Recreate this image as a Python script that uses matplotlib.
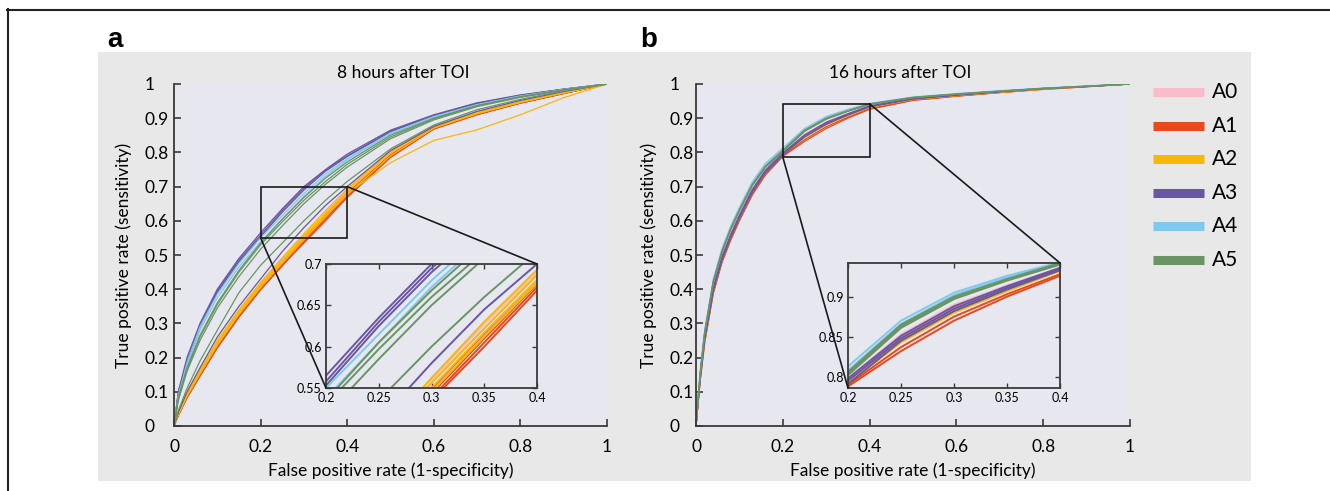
import matplotlib
matplotlib.use("Agg")
import matplotlib.pyplot as plt
from matplotlib.patches import Rectangle, ConnectionPatch
from matplotlib.lines import Line2D

plt.rcParams['font.family'] = ['Lato', 'DejaVu Sans']

# ---------------- data ----------------
series_names = ["A0", "A1", "A2", "A3", "A4", "A5"]
series_colors = ["#f9bccb", "#e84a1c", "#f7b80a", "#6a56a2", "#7fc9ee", "#6a9463"]

x_ticks = [0, 0.2, 0.4, 0.6, 0.8, 1]
x_tick_labels = ["0", "0.2", "0.4", "0.6", "0.8", "1"]
y_ticks = [0, 0.1, 0.2, 0.3, 0.4, 0.5, 0.6, 0.7, 0.8, 0.9, 1]
y_tick_labels = ["0", "0.1", "0.2", "0.3", "0.4", "0.5", "0.6", "0.7", "0.8", "0.9", "1"]

# Panel a: 8 hours after TOI (false positive rate grid, true positive rate per curve)
fpr_a = [0, 0.01, 0.03, 0.06, 0.1, 0.15, 0.2, 0.25, 0.3, 0.35, 0.4, 0.5, 0.6, 0.7, 0.8, 0.9, 1.0]
a_A0 = [
    [0, 0.035, 0.092, 0.158, 0.243, 0.334, 0.415, 0.485, 0.556, 0.622, 0.686, 0.797, 0.875, 0.915, 0.947, 0.974, 1],
    [0, 0.033, 0.088, 0.153, 0.238, 0.328, 0.408, 0.478, 0.549, 0.615, 0.68, 0.792, 0.871, 0.912, 0.945, 0.973, 1],
    [0, 0.036, 0.093, 0.16, 0.246, 0.337, 0.418, 0.49, 0.56, 0.627, 0.69, 0.8, 0.877, 0.917, 0.948, 0.975, 1],
]
a_A1 = [
    [0, 0.03, 0.082, 0.145, 0.228, 0.318, 0.398, 0.468, 0.538, 0.605, 0.672, 0.787, 0.869, 0.911, 0.944, 0.972, 1],
    [0, 0.032, 0.085, 0.15, 0.233, 0.323, 0.403, 0.473, 0.543, 0.61, 0.676, 0.79, 0.871, 0.912, 0.945, 0.973, 1],
    [0, 0.034, 0.088, 0.154, 0.238, 0.328, 0.409, 0.479, 0.549, 0.616, 0.68, 0.793, 0.873, 0.914, 0.946, 0.974, 1],
    [0, 0.031, 0.084, 0.148, 0.23, 0.32, 0.4, 0.47, 0.535, 0.6, 0.668, 0.785, 0.868, 0.91, 0.944, 0.972, 1],
]
a_A2 = [
    [0, 0.038, 0.095, 0.163, 0.25, 0.34, 0.42, 0.492, 0.562, 0.63, 0.693, 0.802, 0.877, 0.917, 0.948, 0.975, 1],
    [0, 0.036, 0.092, 0.158, 0.244, 0.335, 0.415, 0.486, 0.556, 0.622, 0.687, 0.797, 0.874, 0.915, 0.947, 0.974, 1],
    [0, 0.033, 0.087, 0.152, 0.236, 0.326, 0.405, 0.476, 0.545, 0.612, 0.677, 0.79, 0.871, 0.913, 0.946, 0.974, 1],
    [0, 0.035, 0.09, 0.155, 0.24, 0.33, 0.41, 0.48, 0.55, 0.617, 0.68, 0.77, 0.835, 0.866, 0.91, 0.96, 1],
]
a_A3 = [
    [0, 0.10, 0.20, 0.30, 0.40, 0.49, 0.565, 0.635, 0.70, 0.75, 0.795, 0.865, 0.91, 0.945, 0.968, 0.985, 1],
    [0, 0.10, 0.19, 0.295, 0.395, 0.485, 0.558, 0.63, 0.695, 0.748, 0.79, 0.862, 0.908, 0.943, 0.967, 0.985, 1],
    [0, 0.09, 0.185, 0.29, 0.39, 0.48, 0.553, 0.625, 0.69, 0.745, 0.788, 0.86, 0.907, 0.942, 0.966, 0.984, 1],
    [0, 0.04, 0.10, 0.17, 0.26, 0.35, 0.43, 0.51, 0.58, 0.645, 0.70, 0.805, 0.876, 0.92, 0.952, 0.978, 1],
]
a_A4 = [
    [0, 0.09, 0.185, 0.29, 0.385, 0.475, 0.55, 0.615, 0.68, 0.737, 0.782, 0.857, 0.905, 0.94, 0.965, 0.984, 1],
    [0, 0.085, 0.175, 0.28, 0.375, 0.465, 0.538, 0.605, 0.672, 0.73, 0.778, 0.854, 0.903, 0.939, 0.964, 0.983, 1],
]
a_A5 = [
    [0, 0.085, 0.17, 0.265, 0.36, 0.455, 0.535, 0.605, 0.668, 0.725, 0.772, 0.85, 0.9, 0.937, 0.963, 0.983, 1],
    [0, 0.08, 0.165, 0.26, 0.355, 0.45, 0.53, 0.597, 0.66, 0.715, 0.765, 0.845, 0.898, 0.936, 0.962, 0.982, 1],
    [0, 0.075, 0.16, 0.25, 0.345, 0.437, 0.517, 0.585, 0.65, 0.707, 0.757, 0.84, 0.895, 0.934, 0.961, 0.982, 1],
    [0, 0.045, 0.11, 0.19, 0.28, 0.39, 0.47, 0.535, 0.60, 0.66, 0.715, 0.81, 0.88, 0.925, 0.955, 0.98, 1],
]

# Panel b: 16 hours after TOI
fpr_b = [0, 0.005, 0.01, 0.02, 0.04, 0.06, 0.08, 0.1, 0.13, 0.16, 0.2, 0.25, 0.3, 0.35, 0.4, 0.5, 0.6, 0.7, 0.8, 0.9, 1.0]
b_A0 = [
    [0, 0.078, 0.148, 0.262, 0.41, 0.5, 0.565, 0.62, 0.695, 0.75, 0.798, 0.853, 0.89, 0.914, 0.936, 0.957, 0.968, 0.977, 0.986, 0.993, 1],
    [0, 0.076, 0.146, 0.258, 0.406, 0.496, 0.561, 0.616, 0.69, 0.746, 0.795, 0.85, 0.887, 0.912, 0.935, 0.956, 0.967, 0.977, 0.986, 0.993, 1],
]
b_A1 = [
    [0, 0.068, 0.135, 0.243, 0.388, 0.478, 0.543, 0.6, 0.676, 0.734, 0.788, 0.832, 0.87, 0.9, 0.926, 0.952, 0.964, 0.975, 0.984, 0.992, 1],
    [0, 0.07, 0.138, 0.247, 0.392, 0.482, 0.548, 0.604, 0.68, 0.737, 0.79, 0.837, 0.875, 0.903, 0.928, 0.953, 0.965, 0.975, 0.985, 0.992, 1],
]
b_A2 = [
    [0, 0.07, 0.138, 0.248, 0.395, 0.485, 0.55, 0.607, 0.683, 0.74, 0.792, 0.843, 0.88, 0.907, 0.932, 0.955, 0.966, 0.976, 0.985, 0.993, 1],
    [0, 0.073, 0.142, 0.252, 0.4, 0.49, 0.555, 0.611, 0.687, 0.744, 0.795, 0.847, 0.884, 0.91, 0.934, 0.956, 0.967, 0.977, 0.986, 0.993, 1],
]
b_A3 = [
    [0, 0.075, 0.145, 0.255, 0.4, 0.49, 0.555, 0.612, 0.688, 0.745, 0.795, 0.848, 0.885, 0.911, 0.935, 0.957, 0.968, 0.978, 0.987, 0.993, 1],
    [0, 0.072, 0.14, 0.25, 0.395, 0.485, 0.55, 0.607, 0.683, 0.74, 0.791, 0.845, 0.882, 0.909, 0.933, 0.956, 0.967, 0.977, 0.986, 0.993, 1],
    [0, 0.078, 0.148, 0.26, 0.405, 0.495, 0.56, 0.616, 0.692, 0.748, 0.798, 0.851, 0.888, 0.913, 0.936, 0.958, 0.969, 0.978, 0.987, 0.993, 1],
]
b_A4 = [
    [0, 0.09, 0.165, 0.28, 0.43, 0.52, 0.585, 0.64, 0.715, 0.768, 0.813, 0.87, 0.905, 0.926, 0.943, 0.962, 0.972, 0.98, 0.988, 0.994, 1],
    [0, 0.085, 0.16, 0.275, 0.425, 0.515, 0.58, 0.635, 0.71, 0.763, 0.808, 0.866, 0.902, 0.924, 0.942, 0.961, 0.971, 0.98, 0.988, 0.994, 1],
]
b_A5 = [
    [0, 0.085, 0.16, 0.275, 0.425, 0.512, 0.578, 0.632, 0.707, 0.76, 0.806, 0.865, 0.9, 0.922, 0.942, 0.961, 0.971, 0.979, 0.987, 0.994, 1],
    [0, 0.08, 0.155, 0.27, 0.42, 0.508, 0.574, 0.628, 0.703, 0.756, 0.802, 0.861, 0.897, 0.92, 0.94, 0.96, 0.97, 0.979, 0.987, 0.993, 1],
    [0, 0.082, 0.157, 0.272, 0.422, 0.51, 0.575, 0.63, 0.705, 0.758, 0.804, 0.863, 0.899, 0.921, 0.941, 0.96, 0.97, 0.979, 0.987, 0.993, 1],
]

zoom_a = (0.2, 0.4, 0.55, 0.7)
zoom_b = (0.2, 0.4, 0.786, 0.942)
inset_xticks = [0.2, 0.25, 0.3, 0.35, 0.4]
inset_xlabels = ["0.2", "0.25", "0.3", "0.35", "0.4"]
inset_a_yticks = [0.55, 0.6, 0.65, 0.7]
inset_a_ylabels = ["0.55", "0.6", "0.65", "0.7"]
inset_b_yticks = [0.8, 0.85, 0.9]
inset_b_ylabels = ["0.8", "0.85", "0.9"]

titles = ["8 hours after TOI", "16 hours after TOI"]
xlabel = "False positive rate (1-specificity)"
ylabel = "True positive rate (sensitivity)"

# ---------------- layout ----------------
W, H = 1330, 491
fig = plt.figure(figsize=(W / 100, H / 100), dpi=100)
fig.patch.set_facecolor("white")


def box(l, t, r, b):
    return [l / W, 1 - b / H, (r - l) / W, (b - t) / H]


def fx(x):
    return x / W


def fy(y):
    return 1 - y / H


# outer frame (only top and left visible)
fig.add_artist(Line2D([fx(7.5), fx(7.5)], [fy(9), 0], color="#222222", lw=1.5, transform=fig.transFigure))
fig.add_artist(Line2D([fx(7), 1], [fy(9.5), fy(9.5)], color="#222222", lw=1.5, transform=fig.transFigure))
# grey panel
fig.add_artist(Rectangle((fx(98), fy(481)), fx(1251) - fx(98), fy(52) - fy(481),
                         transform=fig.transFigure, facecolor="#e8e8e8", edgecolor="none", zorder=0))

AX_BG = "#e7e7f0"
SPINE = "#3a3a3a"

fig.text(fx(107), fy(47), "a", fontsize=20, fontweight="bold", family=["Liberation Sans"], va="baseline", ha="left")
fig.text(fx(640), fy(47), "b", fontsize=20, fontweight="bold", family=["Liberation Sans"], va="baseline", ha="left")

panels = [
    (box(174, 84, 607, 426), box(326, 264, 537, 388), fpr_a, [a_A0, a_A1, a_A2, a_A3, a_A4, a_A5], zoom_a,
     inset_a_yticks, inset_a_ylabels, 403, 21.0),
    (box(696, 84, 1130, 426), box(848, 263, 1060, 388), fpr_b, [b_A0, b_A1, b_A2, b_A3, b_A4, b_A5], zoom_b,
     inset_b_yticks, inset_b_ylabels, 900, 18.8),
]

for i, (mpos, ipos, fpr, groups, zm, iyt, iyl, tx, ypad) in enumerate(panels):
    ax = fig.add_axes(mpos)
    ax.set_facecolor(AX_BG)
    for g, col in zip(groups, series_colors):
        for tpr in g:
            ax.plot(fpr, tpr, color=col, lw=0.9, solid_capstyle="butt")
    ax.set_xlim(0, 1)
    ax.set_ylim(0, 1)
    for s in ["top", "right"]:
        ax.spines[s].set_visible(False)
    for s in ["left", "bottom"]:
        ax.spines[s].set_color(SPINE)
        ax.spines[s].set_linewidth(1.3)
    ax.set_xticks(x_ticks)
    ax.set_xticklabels(x_tick_labels)
    ax.set_yticks(y_ticks)
    ax.set_yticklabels(y_tick_labels, ha="left")
    ax.tick_params(direction="in", length=5, width=1.2, color=SPINE, labelsize=12.5, pad=9)
    ax.tick_params(axis="y", pad=ypad)
    ax.set_xlabel(xlabel, fontsize=12.5, labelpad=6)
    ax.set_ylabel(ylabel, fontsize=12.5, labelpad=9)
    fig.text(fx(tx), fy(73), titles[i], fontsize=12.5, ha="center", va="center")

    x0, x1, y0, y1 = zm
    ax.add_patch(Rectangle((x0, y0), x1 - x0, y1 - y0, fill=False, edgecolor="#1a1a1a", lw=1.2, zorder=5))

    axi = fig.add_axes(ipos)
    axi.set_facecolor(AX_BG)
    for g, col in zip(groups, series_colors):
        for tpr in g:
            axi.plot(fpr, tpr, color=col, lw=1.4)
    axi.set_xlim(x0, x1)
    axi.set_ylim(y0, y1)
    for s in axi.spines.values():
        s.set_color(SPINE)
        s.set_linewidth(1.3)
    axi.set_xticks(inset_xticks)
    axi.set_xticklabels(inset_xlabels)
    axi.set_yticks(iyt)
    axi.set_yticklabels(iyl)
    axi.tick_params(direction="in", length=3.5, width=1.0, color=SPINE, labelsize=9,
                    top=True, right=True, pad=3)

    for pa in [(x0, y0), (x1, y1)]:
        con = ConnectionPatch(xyA=pa, coordsA=ax.transData, xyB=pa, coordsB=axi.transData,
                              color="#1a1a1a", lw=1.2, zorder=6)
        fig.add_artist(con)

# legend
leg_y = [92, 126, 159, 193, 226, 260]
for name, col, yy in zip(series_names, series_colors, leg_y):
    fig.add_artist(Line2D([fx(1153), fx(1204)], [fy(yy), fy(yy)], color=col, lw=6.5,
                          solid_capstyle="butt", transform=fig.transFigure))
    fig.text(fx(1212), fy(yy), name, fontsize=15, ha="left", va="center")

fig.savefig("out.png", dpi=100)
